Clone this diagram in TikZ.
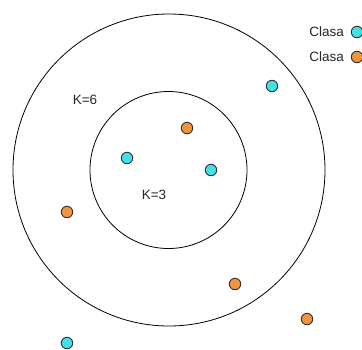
\documentclass[tikz,border=0pt]{standalone}
\usepackage{fontspec}
\setmainfont{Liberation Sans}
\usepackage{tikz}
\definecolor{cyanpt}{HTML}{40E0E6}
\definecolor{orangept}{HTML}{F0953E}

\begin{document}
\begin{tikzpicture}[x=1pt,y=-1pt,
    pt/.style={circle,draw=black!80,line width=0.9pt,minimum size=11.5pt,inner sep=0pt},
    cy/.style={pt,fill=cyanpt},
    og/.style={pt,fill=orangept},
    lbl/.style={font=\fontsize{13.5}{15}\selectfont,text=black!85,inner sep=0pt}]
    \useasboundingbox (0,0) rectangle (362,349);
    \draw[line width=0.8pt] (169,170) circle (156);
    \draw[line width=0.8pt] (168.5,170) circle (78.5);
    \node[lbl] (k6) at (85,100) {K=6};
    \node[lbl] (k3) at (154,195) {K=3};

    \node[cy] (p1) at (272,86) {};
    \node[og] (p2) at (187,128) {};
    \node[cy] (p3) at (127,158) {};
    \node[cy] (p4) at (211,170) {};
    \node[og] (p5) at (67,212) {};
    \node[og] (p6) at (235,284) {};
    \node[og] (p7) at (307,319) {};
    \node[cy] (p8) at (67,343) {};

    \node[cy] (lc) at (357,32) {};
    \node[og] (lo) at (357,57) {};
    \node[lbl,anchor=east] (tc) at (344,32) {Clasa};
    \node[lbl,anchor=east] (to) at (344,57) {Clasa};
\end{tikzpicture}
\end{document}
